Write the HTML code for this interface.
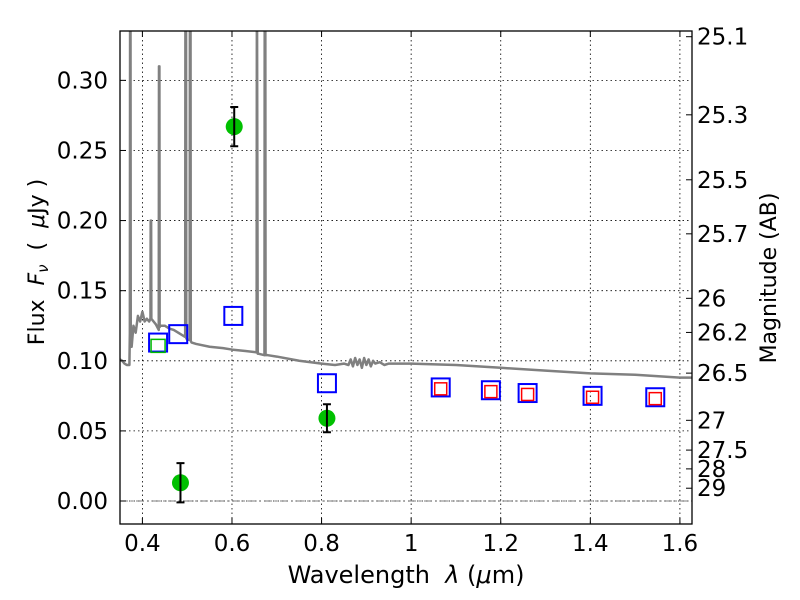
<!DOCTYPE html>
<html><head><meta charset="utf-8"><style>
html,body{margin:0;padding:0;background:#fff;}
svg{display:block;font-family:"DejaVu Sans","Liberation Sans",sans-serif;}
</style></head><body>
<svg id="chart" width="800" height="600" viewBox="0 0 800 600" xmlns="http://www.w3.org/2000/svg">
<rect width="800" height="600" fill="#fff"/>
<g id="grid"></g>
<g id="spec"></g>
<g id="marks"></g>
<rect x="120" y="31" width="572" height="493" fill="none" stroke="#000" stroke-width="1.3"/>
<g id="axes"></g>
<text x="406" y="583" font-size="24" text-anchor="middle">Wavelength&#160;&#160;<tspan font-style="italic">λ</tspan> (<tspan font-style="italic">μ</tspan>m)</text>
<text transform="translate(44,262) rotate(-90)" font-size="22" text-anchor="middle">Flux&#160;&#160;<tspan font-style="italic">F<tspan font-size="15" dy="4">ν</tspan></tspan><tspan dy="-4">&#160;&#160;(&#160;&#160;</tspan><tspan font-style="italic">μ</tspan>Jy )</text>
<text transform="translate(776,278) rotate(-90)" font-size="22" text-anchor="middle">Magnitude (AB)</text>
</svg>
<script>
const xTicks=[0.4,0.6,0.8,1.0,1.2,1.4,1.6];
const xTickLabels=["0.4","0.6","0.8","1","1.2","1.4","1.6"];
const yTicks=[0,0.05,0.10,0.15,0.20,0.25,0.30];
const yTickLabels=["0.00","0.05","0.10","0.15","0.20","0.25","0.30"];
const magTicks=[25.1,25.3,25.5,25.7,26,26.2,26.5,27,27.5,28,29];
const magLabels=["25.1","25.3","25.5","25.7","26","26.2","26.5","27","27.5","28","29"];
const specWave=[0.35,0.355,0.36,0.365,0.371,0.372,0.3725,0.3735,0.374,0.376,0.38,0.385,0.39,0.395,0.40,0.405,0.41,0.415,0.418,0.4185,0.4195,0.42,0.43,0.4365,0.437,0.438,0.4385,0.44,0.45,0.46,0.47,0.48,0.4955,0.496,0.4975,0.498,0.5,0.5055,0.506,0.5075,0.508,0.51,0.52,0.55,0.58,0.6,0.63,0.655,0.6555,0.656,0.6575,0.658,0.66,0.6725,0.673,0.6745,0.675,0.68,0.7,0.75,0.8,0.83,0.85,0.86,0.865,0.87,0.875,0.88,0.885,0.89,0.895,0.9,0.905,0.91,0.915,0.92,0.93,0.94,0.95,1.0,1.1,1.2,1.3,1.4,1.5,1.6,1.627];
const specFlux=[0.101,0.100,0.098,0.097,0.097,0.12,0.34,0.34,0.12,0.11,0.125,0.12,0.132,0.128,0.135,0.128,0.13,0.128,0.13,0.20,0.20,0.13,0.126,0.122,0.31,0.31,0.124,0.125,0.125,0.123,0.122,0.12,0.117,0.34,0.34,0.116,0.115,0.115,0.34,0.34,0.114,0.113,0.112,0.110,0.109,0.108,0.107,0.106,0.34,0.34,0.105,0.105,0.105,0.104,0.34,0.34,0.104,0.104,0.103,0.100,0.098,0.097,0.098,0.097,0.101,0.096,0.102,0.097,0.101,0.095,0.102,0.097,0.101,0.096,0.100,0.098,0.099,0.097,0.098,0.098,0.097,0.095,0.093,0.091,0.090,0.088,0.088];
const photWave=[0.485,0.605,0.812];
const photFlux=[0.013,0.267,0.059];
const photErr=[0.014,0.014,0.010];
const blueWave=[0.435,0.48,0.603,0.812,1.066,1.178,1.26,1.405,1.545];
const blueFlux=[0.113,0.119,0.132,0.084,0.081,0.079,0.077,0.075,0.074];
const redWave=[1.066,1.178,1.26,1.405,1.545];
const redFlux=[0.080,0.078,0.076,0.074,0.073];
const greenSqWave=[0.435];
const greenSqFlux=[0.111];

const X0=120,X1=692,Y0=524,Y1=31;
const xmin=0.35,xmax=1.627,ymin=-0.0164,ymax=0.3352;
const sx=v=>X0+(v-xmin)/(xmax-xmin)*(X1-X0);
const sy=v=>Y0-(v-ymin)/(ymax-ymin)*(Y0-Y1);
const NS="http://www.w3.org/2000/svg";
function mk(tag,attrs,parent){const e=document.createElementNS(NS,tag);for(const k in attrs)e.setAttribute(k,attrs[k]);parent.appendChild(e);return e;}
const grid=document.getElementById('grid'),axes=document.getElementById('axes'),spec=document.getElementById('spec'),marks=document.getElementById('marks');
xTicks.forEach((t,i)=>{const x=sx(t);
 const g=mk('line',{x1:x,x2:x,y1:Y1,y2:Y0,stroke:'#000','stroke-width':0.8,'stroke-dasharray':'1.5,3'},grid);
 
 
 mk('line',{x1:x,x2:x,y1:Y0,y2:Y0-6,stroke:'#000'},axes);
 mk('line',{x1:x,x2:x,y1:Y1,y2:Y1+6,stroke:'#000'},axes);
 const tx=mk('text',{x:x,y:Y0+27,'font-size':23,'text-anchor':'middle'},axes);tx.textContent=xTickLabels[i];
 
 
});
yTicks.forEach((t,i)=>{const y=sy(t);
 const g=mk('line',{x1:X0,x2:X1,y1:y,y2:y,stroke:'#000','stroke-width':0.8,'stroke-dasharray':'1.5,3'},grid);
 
 
 mk('line',{x1:X0,x2:X0+6,y1:y,y2:y,stroke:'#000'},axes);
 const tx=mk('text',{x:X0-12,y:y+8,'font-size':23,'text-anchor':'end'},axes);tx.textContent=yTickLabels[i];
 
 
});
magTicks.forEach((m,i)=>{const y=sy(Math.pow(10,(23.9-m)/2.5));
 mk('line',{x1:X1,x2:X1-6,y1:y,y2:y,stroke:'#000'},axes);
 const tx=mk('text',{x:X1+5,y:y+8,'font-size':23},axes);tx.textContent=magLabels[i];
 
 
});
const zl=mk('line',{x1:X0,x2:X1,y1:sy(0),y2:sy(0),stroke:'#555','stroke-width':0.8,'stroke-dasharray':'8,3,2,3'},grid);


const clip=mk('clipPath',{id:'pc'},spec);mk('rect',{x:X0,y:Y1,width:X1-X0,height:Y0-Y1},clip);
const sp=mk('polyline',{points:specWave.map((w,i)=>sx(w)+','+sy(specFlux[i])).join(' '),fill:'none',stroke:'#808080','stroke-width':2.5,'stroke-linejoin':'round','clip-path':'url(#pc)'},spec);


blueWave.forEach((w,i)=>{const r=mk('rect',{x:sx(w)-9,y:sy(blueFlux[i])-9,width:18,height:18,fill:'none',stroke:'#0000ff','stroke-width':2},marks);
 
 });
redWave.forEach((w,i)=>{const r=mk('rect',{x:sx(w)-6,y:sy(redFlux[i])-6,width:12,height:12,fill:'none',stroke:'#ff0000','stroke-width':1.5},marks);
 
 });
greenSqWave.forEach((w,i)=>{const r=mk('rect',{x:sx(w)-7,y:sy(greenSqFlux[i])-6,width:14,height:13,fill:'none',stroke:'#00bb00','stroke-width':1.5},marks);
 
 });
photWave.forEach((w,i)=>{const x=sx(w),y=sy(photFlux[i]),ya=sy(photFlux[i]+photErr[i]),yb=sy(photFlux[i]-photErr[i]);
 const c=mk('circle',{cx:x,cy:y,r:8.5,fill:'#00c000'},marks);
 
 
 const e=mk('path',{d:`M${x},${ya}V${yb}M${x-4},${ya}H${x+4}M${x-4},${yb}H${x+4}`,stroke:'#000','stroke-width':2,fill:'none'},marks);
 
 
});
</script>
</body></html>
